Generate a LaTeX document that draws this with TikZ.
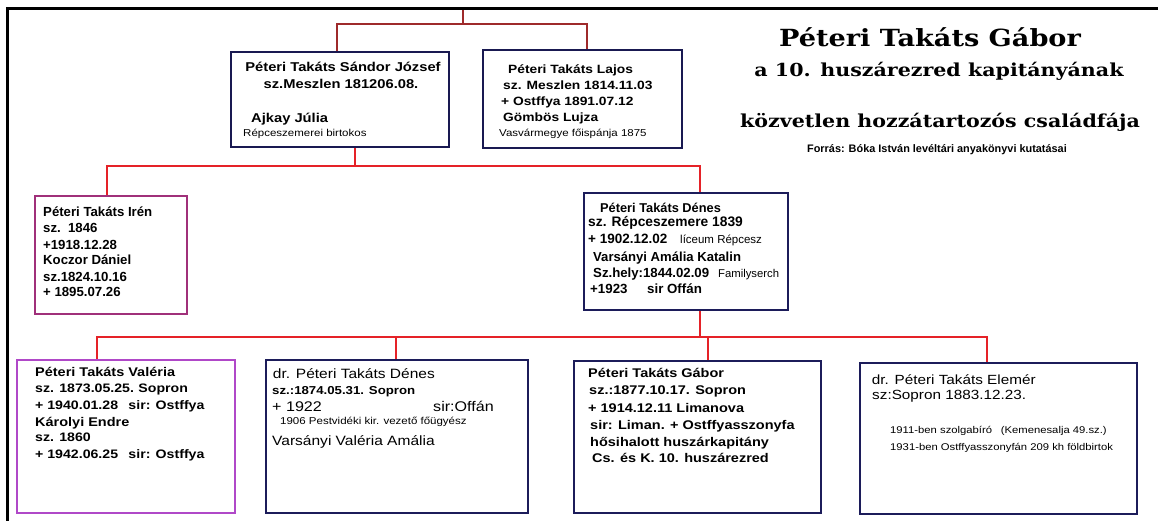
\documentclass[tikz,border=0pt]{standalone}
\usepackage{fontspec}
\setmainfont{Liberation Sans}
\newfontfamily\lf[FakeStretch=1.15]{Liberation Sans}
\newfontfamily\lnf{Liberation Sans}
\newfontfamily\tf[FakeStretch=1.15]{DejaVu Serif}
\newcommand\myfs[1]{\fontsize{#1}{#1}\selectfont}
\definecolor{navy}{HTML}{1C1C5A}
\definecolor{plum}{HTML}{A0307A}
\definecolor{violet}{HTML}{B048C8}
\definecolor{darkconn}{HTML}{9E2A2B}
\definecolor{redconn}{HTML}{E52228}
\tikzset{
  box/.style={draw=navy, line width=2.6pt, rectangle, inner sep=0pt, fill=white},
  thinbox/.style={draw=navy!90!black, line width=1.8pt, rectangle, inner sep=0pt, fill=white},
  txt/.style={anchor=base west, inner sep=0pt, text=black},
  ctxt/.style={anchor=base, inner sep=0pt, text=black},
  dconn/.style={draw=darkconn, line width=2.4pt},
  rconn/.style={draw=redconn, line width=2.8pt},
}
\begin{document}
\begin{tikzpicture}[x=1pt,y=-1pt]
\useasboundingbox[fill=white] (0,0) rectangle (1158,521);
\draw[line width=3pt] (7,521) -- (7,9) -- (1158,9);

% boxes
\node[thinbox, minimum width=218pt, minimum height=95pt] (san) at (340,99.5) {};
\node[thinbox, minimum width=199pt, minimum height=98pt] (laj) at (582.5,99) {};
\node[box, draw=plum, minimum width=152pt, minimum height=118pt] (iren) at (111,255) {};
\node[box, minimum width=204pt, minimum height=117pt] (den) at (686,251.5) {};
\node[box, draw=violet, minimum width=218pt, minimum height=153pt] (val) at (126,436.5) {};
\node[box, minimum width=262pt, minimum height=153pt] (drd) at (397,436.5) {};
\node[box, minimum width=247pt, minimum height=152pt] (gab) at (697.5,437) {};
\node[box, minimum width=277pt, minimum height=151pt] (ele) at (998.5,438.5) {};

% connectors
\coordinate (topend) at (463,10);
\coordinate (j0) at (463,24);
\coordinate (j0l) at (337,24);
\coordinate (j0r) at (587,24);
\draw[dconn] (topend) -- (j0);
\draw[dconn] (j0l |- san.north) -- (j0l) -- (j0r) -- (j0r |- laj.north);

\coordinate (j1) at (355,166);
\coordinate (j1l) at (107,166);
\coordinate (j1r) at (700,166);
\draw[rconn] (j1 |- san.south) -- (j1);
\draw[rconn] (j1l |- iren.north) -- (j1l) -- (j1r) -- (j1r |- den.north);

\coordinate (j2) at (700,337);
\coordinate (b1) at (97,337);
\coordinate (b2) at (396,337);
\coordinate (b3) at (708,337);
\coordinate (b4) at (987,337);
\draw[rconn] (j2 |- den.south) -- (j2);
\draw[rconn] (b1 |- val.north) -- (b1) -- (b4) -- (b4 |- ele.north);
\draw[rconn] (b2) -- (b2 |- drd.north);
\draw[rconn] (b3) -- (b3 |- gab.north);

% title
\node[ctxt] (t1) at (930,46.7) {\tf\bfseries\myfs{23.6}Péteri Takáts Gábor};
\node[ctxt] (t2) at (939,76.7) {\tf\bfseries\myfs{17.9}a 10. huszárezred kapitányának};
\node[ctxt] (t3) at (940,128) {\tf\bfseries\myfs{17.9}közvetlen hozzátartozós családfája};
\node[ctxt] (t4) at (937,153) {\lnf\bfseries\myfs{10.9}Forrás: Bóka István levéltári anyakönyvi kutatásai};

% Sándor
\node[ctxt] (s1) at (343,72) {\lf\bfseries\myfs{12.8}Péteri Takáts Sándor József};
\node[ctxt] (s2) at (341,89) {\lf\bfseries\myfs{12.8}sz.Meszlen 181206.08.};
\node[txt] (s3) at (251,122.7) {\lf\bfseries\myfs{12.8}Ajkay Júlia};
\node[txt] (s4) at (243,136.7) {\lf\myfs{10}Répceszemerei birtokos};

% Lajos
\node[txt] (l1) at (508,74) {\lf\bfseries\myfs{12}Péteri Takáts Lajos};
\node[txt] (l2) at (503,90) {\lf\bfseries\myfs{12}sz. Meszlen 1814.11.03};
\node[txt] (l3) at (501,105.5) {\lf\bfseries\myfs{12}+ Ostffya 1891.07.12};
\node[txt] (l4) at (503,121.5) {\lf\bfseries\myfs{12}Gömbös Lujza};
\node[txt] (l5) at (499,136.7) {\lf\myfs{10}Vasvármegye főispánja 1875};

% Irén
\node[txt] (i1) at (43,217) {\lnf\bfseries\myfs{13.2}Péteri Takáts Irén};
\node[txt] (i2) at (43,233) {\lnf\bfseries\myfs{13.2}sz.\ \ 1846};
\node[txt] (i3) at (43,249) {\lnf\bfseries\myfs{13.2}+1918.12.28};
\node[txt] (i4) at (43,265) {\lnf\bfseries\myfs{13.2}Koczor Dániel};
\node[txt] (i5) at (43,281) {\lnf\bfseries\myfs{13.2}sz.1824.10.16};
\node[txt] (i6) at (43,296.5) {\lnf\bfseries\myfs{13.2}+ 1895.07.26};

% Dénes
\node[txt] (d1) at (600,212.3) {\lnf\bfseries\myfs{12.8}Péteri Takáts Dénes};
\node[txt] (d2) at (588,226.7) {\lnf\bfseries\myfs{13.8}sz. Répceszemere 1839};
\node[txt] (d3) at (588,243.3) {\lnf\bfseries\myfs{13.5}+ 1902.12.02};
\node[txt] (d3b) at (680,243.3) {\lnf\myfs{11.5}líceum Répcesz};
\node[txt] (d4) at (593,261.7) {\lnf\bfseries\myfs{13.1}Varsányi Amália Katalin};
\node[txt] (d5) at (593,277.3) {\lnf\bfseries\myfs{13.2}Sz.hely:1844.02.09};
\node[txt] (d5b) at (718,277.3) {\lnf\myfs{11.3}Familyserch};
\node[txt] (d6) at (590,293.3) {\lnf\bfseries\myfs{13.3}\makebox[57pt][l]{+1923}sir Offán};

% Valéria
\node[txt] (v1) at (35,376) {\lf\bfseries\myfs{12.6}Péteri Takáts Valéria};
\node[txt] (v2) at (35,392.7) {\lf\bfseries\myfs{12.3}\makebox[103.3pt][l]{sz. 1873.05.25.}Sopron};
\node[txt] (v3) at (35,409) {\lf\bfseries\myfs{12.3}\makebox[93.3pt][l]{+ 1940.01.28}sir: Ostffya};
\node[txt] (v4) at (35,426) {\lf\bfseries\myfs{12.6}Károlyi Endre};
\node[txt] (v5) at (35,441.7) {\lf\bfseries\myfs{12.3}sz. 1860};
\node[txt] (v6) at (35,458.3) {\lf\bfseries\myfs{12.3}\makebox[93.3pt][l]{+ 1942.06.25}sir: Ostffya};

% dr. Dénes
\node[txt] (r1) at (272.7,378.3) {\lf\myfs{13.5}dr. Péteri Takáts Dénes};
\node[txt] (r2) at (272,394.3) {\lf\bfseries\myfs{11.5}sz.:1874.05.31. Sopron};
\node[txt] (r3) at (272,411.7) {\lf\myfs{14}\makebox[161pt][l]{+ 1922}sir:Offán};
\node[txt] (r4) at (280,424) {\lf\myfs{10}1906 Pestvidéki kir. vezető főügyész};
\node[txt] (r5) at (272,445) {\lf\myfs{13.5}Varsányi Valéria Amália};

% Gábor
\node[txt] (g1) at (588,377.3) {\lf\bfseries\myfs{12.6}Péteri Takáts Gábor};
\node[txt] (g2) at (589,394) {\lf\bfseries\myfs{12.6}sz.:1877.10.17. Sopron};
\node[txt] (g3) at (588,412.7) {\lf\bfseries\myfs{12.6}+ 1914.12.11 Limanova};
\node[txt] (g4) at (590,429.3) {\lf\bfseries\myfs{12.6}sir: Liman. + Ostffyasszonyfa};
\node[txt] (g5) at (590,446) {\lf\bfseries\myfs{12.6}hősihalott huszárkapitány};
\node[txt] (g6) at (592,462.7) {\lf\bfseries\myfs{12.6}Cs. és K. 10. huszárezred};

% Elemér
\node[txt] (e1) at (871.7,384) {\lf\myfs{13.3}dr. Péteri Takáts Elemér};
\node[txt] (e2) at (872,399.3) {\lf\myfs{13.3}sz:Sopron 1883.12.23.};
\node[txt] (e3) at (890,433.3) {\lf\myfs{9.8}\makebox[110.7pt][l]{1911-ben szolgabíró}(Kemenesalja 49.sz.)};
\node[txt] (e4) at (890,450) {\lf\myfs{9.8}1931-ben Ostffyasszonyfán 209 kh földbirtok};
\end{tikzpicture}
\end{document}
